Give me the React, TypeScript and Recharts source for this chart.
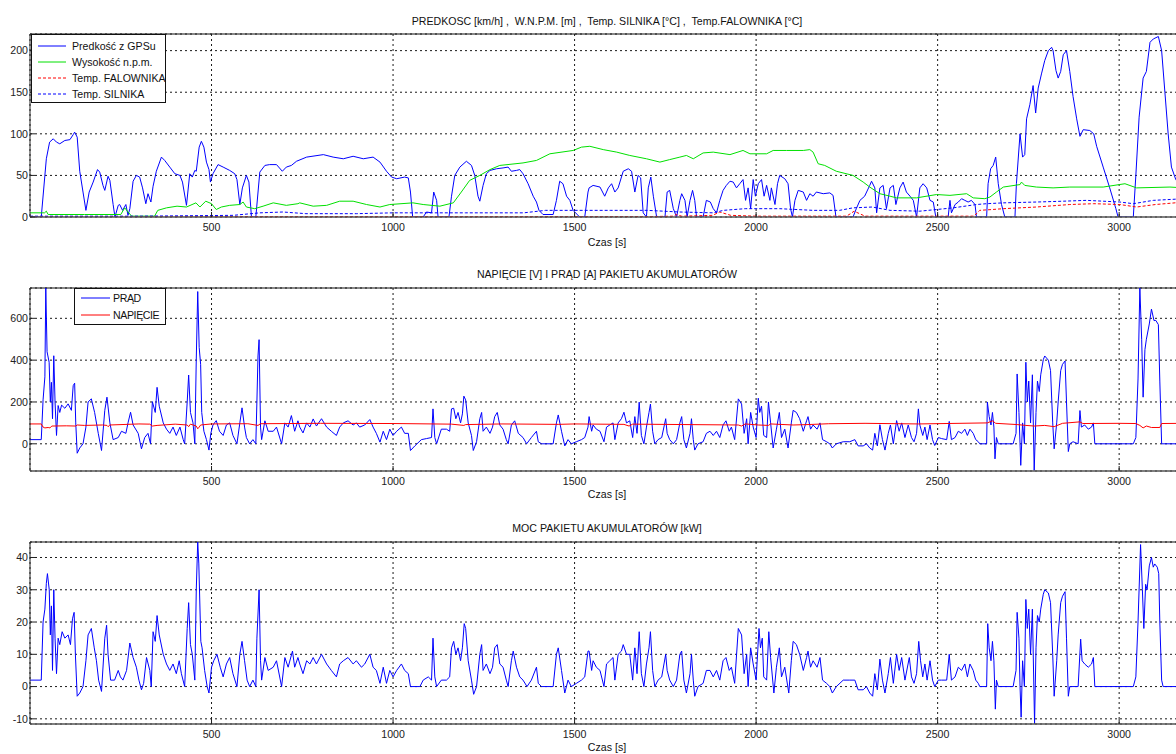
import { LineChart, Line, XAxis, YAxis, CartesianGrid, ReferenceLine } from 'recharts';

type Pt = [number, number];

const timeTicks = [500, 1000, 1500, 2000, 2500, 3000];
const speedTicks = [0, 50, 100, 150, 200];
const batteryTicks = [0, 200, 400, 600];
const powerTicks = [-10, 0, 10, 20, 30, 40];

// [czas s, wartosc]
const speedGps: Pt[] = [
  [0, 0], [31, 0], [45, 70], [54, 90], [64, 94], [73, 90], [82, 88], [96, 92], [110, 93], [119, 99], [123, 102], [130, 96],
  [137, 55], [146, 30], [154, 8], [163, 30], [174, 42], [186, 57], [192, 54], [201, 38], [206, 32], [215, 49], [220, 44],
  [229, 15], [234, 0], [243, 14], [247, 15], [255, 8], [264, 15], [270, 2], [275, 10], [284, 43], [293, 50], [302, 48],
  [310, 35], [319, 16], [325, 28], [333, 18], [339, 37], [348, 55], [362, 72], [371, 68], [385, 60], [399, 52], [413, 50],
  [420, 42], [431, 14], [440, 52], [447, 48], [454, 56], [458, 55], [466, 84], [472, 91], [479, 84], [486, 66], [493, 57],
  [497, 42], [504, 52], [518, 63], [532, 60], [550, 56], [564, 52], [570, 45], [578, 15], [585, 35], [596, 50], [603, 42],
  [610, 0], [622, 0], [633, 54], [647, 62], [660, 63], [679, 63], [695, 55], [706, 60], [720, 62], [734, 67], [762, 72],
  [808, 75], [835, 72], [863, 70], [890, 73], [918, 70], [945, 72], [964, 66], [982, 55], [996, 48], [1010, 46], [1032, 48],
  [1042, 47], [1048, 30], [1054, 0], [1083, 0], [1092, 6], [1106, 5], [1112, 30], [1120, 20], [1124, 0], [1154, 0],
  [1161, 25], [1170, 50], [1184, 60], [1202, 67], [1216, 62], [1225, 50], [1234, 25], [1239, 19], [1248, 38], [1257, 52],
  [1267, 56], [1285, 58], [1303, 59], [1317, 60], [1326, 55], [1340, 56], [1349, 57], [1358, 52], [1372, 40], [1386, 25],
  [1395, 18], [1402, 8], [1413, 3], [1441, 3], [1450, 20], [1459, 43], [1468, 40], [1478, 25], [1487, 20], [1496, 8],
  [1514, 0], [1528, 0], [1537, 30], [1540, 35], [1551, 38], [1570, 36], [1583, 25], [1593, 35], [1602, 40], [1611, 30],
  [1620, 35], [1634, 55], [1648, 58], [1657, 55], [1666, 30], [1675, 50], [1682, 47], [1689, 5], [1698, 0], [1703, 35],
  [1710, 48], [1717, 25], [1726, 0], [1749, 0], [1755, 30], [1762, 32], [1772, 10], [1781, 0], [1790, 20], [1795, 28],
  [1804, 20], [1810, 0], [1818, 20], [1825, 32], [1831, 20], [1836, 0], [1854, 0], [1863, 20], [1874, 18], [1882, 10],
  [1891, 5], [1900, 20], [1909, 32], [1918, 38], [1928, 43], [1937, 42], [1946, 35], [1955, 40], [1964, 45], [1971, 20],
  [1978, 35], [1985, 10], [1992, 45], [1998, 25], [2006, 40], [2015, 45], [2022, 25], [2029, 38], [2038, 20], [2042, 35],
  [2052, 15], [2059, 40], [2065, 50], [2079, 46], [2088, 40], [2095, 10], [2100, 0], [2107, 20], [2116, 32], [2130, 30],
  [2139, 20], [2148, 28], [2157, 25], [2166, 30], [2185, 28], [2203, 29], [2212, 26], [2220, 0], [2267, 0], [2276, 10],
  [2286, 20], [2299, 25], [2313, 38], [2318, 43], [2327, 35], [2332, 5], [2341, 35], [2350, 38], [2359, 10], [2369, 35],
  [2378, 38], [2385, 15], [2396, 35], [2405, 42], [2414, 30], [2424, 25], [2433, 20], [2442, 0], [2451, 35], [2460, 40],
  [2470, 35], [2479, 20], [2488, 18], [2495, 0], [2529, 0], [2534, 20], [2538, 5], [2548, 15], [2557, 18], [2566, 22],
  [2575, 20], [2584, 18], [2593, 20], [2603, 15], [2607, 0], [2635, 0], [2639, 40], [2646, 58], [2653, 62], [2660, 72],
  [2667, 40], [2676, 15], [2685, 0], [2713, 0], [2717, 40], [2727, 100], [2734, 72], [2740, 75], [2745, 118], [2754, 135],
  [2763, 158], [2770, 125], [2777, 155], [2786, 172], [2795, 188], [2805, 200], [2814, 204], [2818, 200], [2826, 176],
  [2832, 167], [2839, 175], [2846, 195], [2855, 200], [2864, 175], [2873, 145], [2883, 118], [2892, 97], [2901, 105],
  [2919, 104], [2930, 100], [2938, 85], [2956, 60], [2974, 35], [2991, 10], [2997, 0], [3039, 0], [3046, 50], [3055, 120],
  [3066, 167], [3075, 175], [3085, 210], [3094, 214], [3108, 217], [3117, 200], [3126, 150], [3135, 100], [3144, 60],
  [3156, 45], [3180, 30],
];

const altitude: Pt[] = [
  [0, 5], [40, 5], [45, 7], [50, 3], [150, 3], [250, 3], [261, 11], [270, 6], [280, 1], [343, 1], [352, 8], [376, 11],
  [405, 13], [431, 12], [457, 17], [468, 12], [484, 19], [500, 16], [513, 9], [527, 12], [550, 14], [578, 15], [587, 18],
  [596, 12], [619, 10], [642, 13], [670, 17], [706, 14], [738, 16], [743, 17], [780, 13], [817, 14], [853, 19], [890, 19],
  [927, 15], [964, 12], [991, 15], [1055, 17], [1083, 15], [1129, 13], [1166, 17], [1188, 30], [1211, 44], [1239, 50],
  [1267, 57], [1294, 62], [1358, 65], [1395, 68], [1432, 76], [1496, 80], [1519, 84], [1542, 85], [1579, 81], [1616, 78],
  [1652, 74], [1698, 70], [1735, 66], [1762, 69], [1790, 72], [1808, 74], [1827, 70], [1854, 77], [1882, 78], [1928, 75],
  [1964, 80], [1983, 76], [2029, 76], [2047, 80], [2084, 80], [2130, 80], [2148, 81], [2157, 78], [2171, 64], [2189, 62],
  [2221, 55], [2267, 50], [2295, 42], [2313, 36], [2341, 28], [2369, 25], [2387, 23], [2442, 23], [2497, 27], [2534, 26],
  [2580, 28], [2598, 23], [2630, 22], [2644, 24], [2662, 30], [2681, 36], [2727, 39], [2731, 42], [2740, 38], [2772, 36],
  [2818, 35], [2864, 36], [2956, 36], [3016, 40], [3048, 35], [3140, 36], [3180, 35],
];

const tempFalownika: Pt[] = [
  [0, 0.5], [1700, 0.5], [1772, 1], [1780, 3], [1795, 1], [1880, 2], [1900, 6], [1930, 2], [2000, 1], [2249, 1],
  [2260, 4], [2270, 7], [2285, 4], [2300, 1], [2600, 1], [2616, 8], [2650, 9], [2681, 10], [2772, 12], [2864, 15],
  [2930, 16], [3002, 15], [3048, 12], [3100, 15], [3180, 18],
];

const tempSilnika: Pt[] = [
  [0, 1], [300, 1], [560, 2], [633, 5], [697, 6], [760, 4], [900, 4], [1000, 5], [1200, 5], [1360, 5], [1420, 8],
  [1500, 8], [1600, 8], [1700, 8], [1790, 6], [1882, 5], [1910, 8], [1970, 10], [2065, 10], [2157, 8], [2230, 8],
  [2267, 11], [2320, 12], [2369, 8], [2451, 7], [2497, 9], [2543, 11], [2607, 15], [2635, 16], [2681, 17], [2772, 18],
  [2846, 19], [2910, 20], [3002, 18], [3039, 16], [3094, 20], [3180, 22],
];

const prad: Pt[] = [
  [0, 20], [31, 20], [36, 210], [41, 320], [43.5, 745], [47, 440], [52.7, 390], [56, 200], [59, 294], [62, 120],
  [65.5, 421], [69, 200], [73, 40], [77.5, 183], [82, 150], [87, 185], [96, 170], [105, 191], [114, 160], [119, 278],
  [123, 290], [126, 100], [130, -45], [137, -20], [146, 0], [154, 80], [160, 200], [169, 215], [178, 150], [188, 50],
  [197, -32], [206, 160], [212, 223], [220, 100], [229, 20], [243, 30], [252, 60], [264, 50], [270, 100], [277, 151],
  [284, 90], [298, 50], [307, -24], [316, 30], [325, 50], [332, 0], [337, 202], [345, 150], [350, 270], [356, 180],
  [367, 100], [376, 70], [385, 50], [394, 80], [403, 40], [413, 80], [422, 20], [426, 0], [433, 200], [437, 329],
  [442, 150], [449, 100], [454, 0], [458, 405], [462, 728], [466, 461], [470, 380], [473, 150], [479, 60], [486, 20],
  [493, -30], [498, 50], [504, 90], [513, 111], [522, 60], [532, 40], [541, 90], [550, 100], [559, 40], [570, 0],
  [578, 100], [584, 172], [591, 80], [596, 30], [605, 0], [614, 20], [622, 0], [625, 200], [628, 420], [631, 498],
  [635, 80], [638, 20], [647, 110], [656, 60], [670, 60], [679, 80], [693, 0], [702, 100], [711, 80], [720, 135],
  [729, 60], [738, 110], [743, 80], [752, 52], [762, 100], [771, 80], [780, 119], [789, 85], [803, 120], [817, 80],
  [830, 60], [844, 40], [853, 80], [863, 100], [876, 110], [890, 90], [899, 100], [908, 80], [922, 90], [936, 116],
  [945, 80], [954, 50], [964, 8], [973, 60], [982, 20], [991, 70], [1000, 40], [1010, 60], [1023, 80], [1032, 50],
  [1042, 50], [1048, -32], [1060, -10], [1078, 20], [1092, 25], [1106, 30], [1110, 167], [1115, 30], [1120, 0],
  [1133, 70], [1147, 70], [1156, 60], [1161, 167], [1167, 170], [1173, 120], [1179, 150], [1186, 100], [1191, 143],
  [1195, 228], [1200, 210], [1207, 100], [1216, 40], [1221, -32], [1230, 10], [1239, 120], [1244, 150], [1248, 60],
  [1257, 80], [1267, 50], [1274, 80], [1280, 130], [1287, 150], [1294, 90], [1303, 70], [1312, 20], [1317, 0], [1326, 90],
  [1335, 110], [1345, 50], [1358, 30], [1368, 0], [1381, 30], [1395, 60], [1400, 10], [1409, 0], [1441, 0], [1450, 100],
  [1455, 138], [1464, 60], [1473, -10], [1482, 20], [1491, 0], [1505, 10], [1519, 20], [1528, 30], [1537, 80], [1540, 130],
  [1547, 60], [1551, 90], [1560, 70], [1570, 60], [1581, 10], [1588, 80], [1597, 90], [1606, 100], [1611, 20], [1620, 100],
  [1629, 120], [1636, 151], [1643, 100], [1652, 110], [1660, 30], [1666, 130], [1672, 50], [1678, 199], [1684, 40],
  [1691, 0], [1698, 80], [1705, 150], [1709, 190], [1715, 60], [1721, 0], [1730, 20], [1740, 30], [1751, 120], [1755, 50],
  [1762, 20], [1772, 0], [1781, 20], [1790, 100], [1795, 130], [1801, 20], [1808, -20], [1818, 50], [1822, 120],
  [1827, 20], [1831, -30], [1840, 0], [1854, 10], [1863, 50], [1873, 60], [1882, 40], [1891, 60], [1900, 30], [1909, 90],
  [1917, 110], [1926, 60], [1932, 80], [1941, 20], [1951, 215], [1960, 190], [1967, 50], [1974, 120], [1978, 0],
  [1985, 150], [1992, 80], [2000, 30], [2006, 218], [2010, 150], [2015, 180], [2021, 40], [2029, 30], [2034, 200],
  [2040, 100], [2047, -20], [2056, 70], [2064, 150], [2070, 30], [2079, 70], [2088, -20], [2097, 100], [2102, 160],
  [2111, 150], [2120, 120], [2130, 60], [2139, 110], [2143, 130], [2150, 70], [2157, 90], [2168, 70], [2176, 100],
  [2183, 20], [2194, 10], [2203, 0], [2210, -20], [2221, 0], [2240, 10], [2258, 10], [2272, 20], [2281, -10], [2295, -10],
  [2304, 0], [2313, -20], [2321, -30], [2327, 50], [2334, -10], [2341, 91], [2348, 20], [2355, -30], [2364, 50], [2370, 90],
  [2378, 0], [2387, 111], [2394, 60], [2401, 100], [2410, 30], [2419, 90], [2428, 30], [2435, 10], [2442, 50], [2447, 167],
  [2451, 90], [2459, 40], [2465, 80], [2471, 20], [2479, 90], [2486, 20], [2492, -8], [2502, 30], [2511, 25], [2525, 20],
  [2532, 107], [2538, 20], [2548, 30], [2557, 60], [2566, 50], [2575, 70], [2582, 40], [2589, 70], [2598, 50], [2605, 20],
  [2612, 10], [2616, 0], [2635, 0], [2637, 200], [2642, 130], [2647, 90], [2651, 150], [2655, 80], [2658, -72], [2662, 30],
  [2667, 0], [2708, 0], [2716, 50], [2719, 334], [2724, 150], [2727, 0], [2729, -103], [2734, 100], [2739, 0], [2743, 390],
  [2747, 200], [2751, 300], [2756, 100], [2761, 330], [2766, -127], [2771, 150], [2775, 300], [2780, 250], [2784, 330],
  [2791, 402], [2795, 420], [2805, 400], [2811, 350], [2817, 100], [2821, -24], [2828, 100], [2832, 200], [2839, 350],
  [2844, 380], [2851, 396], [2855, 200], [2860, -37], [2864, 0], [2873, 10], [2887, 0], [2892, 159], [2896, 80], [2905, 90],
  [2915, 70], [2924, 80], [2929, 100], [2933, 0], [3039, 0], [3046, 30], [3052, 310], [3057, 745], [3062, 500], [3066, 223],
  [3071, 450], [3075, 500], [3083, 573], [3089, 644], [3096, 589], [3101, 590], [3108, 570], [3112, 300], [3117, 0],
  [3180, 0],
];

const napiecie: Pt[] = [
  [0, 95], [31, 95], [36, 80], [41, 76], [50, 78], [55, 76], [60, 85], [100, 86], [126, 85], [130, 90], [150, 88],
  [200, 90], [212, 88], [215, 82], [220, 90], [300, 95], [330, 94], [337, 85], [350, 88], [400, 94], [433, 90], [437, 82],
  [442, 94], [458, 85], [462, 72], [466, 80], [470, 90], [500, 95], [600, 96], [628, 88], [635, 96], [800, 98], [1000, 97],
  [1110, 95], [1161, 94], [1195, 88], [1200, 92], [1300, 95], [1455, 93], [1500, 95], [1636, 93], [1650, 85], [1660, 94],
  [1951, 90], [1960, 85], [1970, 95], [2006, 90], [2034, 88], [2040, 95], [2102, 90], [2143, 92], [2200, 96], [2300, 98],
  [2447, 95], [2637, 100], [2651, 110], [2660, 98], [2719, 92], [2743, 88], [2766, 85], [2795, 88], [2821, 82], [2844, 98],
  [2892, 105], [2900, 97], [3000, 98], [3046, 97], [3057, 88], [3066, 76], [3075, 85], [3089, 78], [3112, 78], [3117, 97],
  [3180, 98],
];

const moc: Pt[] = [
  [0, 2], [31, 2], [36, 20], [41, 24], [45, 32], [48, 35], [53, 30], [56, 16], [59, 25], [62, 5], [65.5, 30], [69, 15],
  [73, 4], [77.5, 15], [82, 13], [88.5, 17], [96, 15], [105, 16], [111.5, 13], [117, 21], [121.5, 23], [125, 10], [130, -3],
  [137, -2], [146, 0], [154, 8], [160, 16], [169, 18], [177, 12], [183, 8], [189, 2], [197, -1.5], [206, 15], [211, 19],
  [215, 10], [222, 2], [233, 2], [243, 5], [249, 3], [256, 2], [266, 5], [275, 13.5], [284, 9], [293, 6], [300, 2],
  [307, -1], [313, 1], [321, 9], [330, 5], [334, 0], [339, 17], [345, 14], [350, 22], [356, 16], [367, 10], [376, 7],
  [385, 5], [394, 7], [403, 4], [411, 8], [417, 4], [426, 0], [433, 18], [437, 26], [442, 13], [447, 10], [454, 2],
  [458, 30], [462, 45], [465, 38], [470.5, 14], [474, 12], [481, 5], [488, 0], [493, -2], [500, 6], [506, 8], [515, 10],
  [524, 6], [532, 3], [541, 7], [550, 9], [559, 4], [570, 0], [578, 10], [584, 14], [591, 8], [598, 2], [605, 0], [614, 2],
  [622, 0], [625, 15], [631, 30], [635, 8], [638, 2], [647, 9], [656, 5], [670, 6], [679, 8], [693, 0], [702, 9], [711, 6],
  [723, 11], [729, 6], [738, 9], [743, 7], [752, 4], [762, 8], [771, 7], [780, 9], [789, 7], [803, 10], [817, 7], [830, 5],
  [844, 3], [853, 7], [863, 8], [876, 9], [890, 7], [899, 8], [913, 6], [922, 7], [936, 10], [945, 6], [954, 5], [964, 1],
  [973, 6], [982, 1], [991, 5], [1000, 3], [1010, 5], [1023, 7], [1032, 5], [1042, 4], [1048, 0], [1074, 0], [1083, 2],
  [1097, 3], [1106, 2], [1110, 15], [1115, 3], [1120, 0], [1133, 2], [1147, 2], [1156, 3], [1161, 12], [1167, 14],
  [1173, 10], [1179, 12], [1186, 8], [1191, 12], [1196, 19.5], [1200, 18], [1207, 8], [1216, 2], [1222, -2.4], [1230, 0],
  [1239, 10], [1244, 13], [1248, 5], [1257, 7], [1267, 4], [1274, 6], [1280, 12], [1287, 13], [1294, 7], [1303, 6],
  [1312, 2], [1317, 0], [1326, 8], [1331, 11], [1340, 6], [1349, 3], [1358, 2], [1369, 0], [1381, 2], [1395, 6], [1400, 1],
  [1409, 0], [1441, 0], [1450, 10], [1455, 12], [1464, 5], [1473, -2], [1482, 2], [1491, 0], [1505, 1], [1519, 2],
  [1528, 3], [1537, 11], [1540, 11], [1547, 5], [1551, 8], [1560, 6], [1570, 5], [1581, 0], [1588, 7], [1597, 8],
  [1606, 9], [1611, 2], [1620, 10], [1629, 11], [1634, 13], [1643, 10], [1652, 10], [1660, 2], [1666, 12], [1672, 4],
  [1678, 17], [1684, 4], [1691, 0], [1698, 7], [1705, 12], [1709, 17], [1715, 5], [1721, 0], [1730, 2], [1740, 3],
  [1751, 10], [1755, 5], [1762, 2], [1772, 0], [1781, 2], [1790, 10], [1795, 11], [1801, 2], [1808, -2], [1818, 4],
  [1822, 10], [1827, 2], [1831, -3], [1840, 0], [1854, 1], [1863, 5], [1873, 5], [1882, 3], [1891, 5], [1900, 2],
  [1909, 8], [1917, 9], [1926, 5], [1932, 6], [1941, 1], [1951, 18], [1960, 16], [1967, 4], [1974, 10], [1978, 0],
  [1985, 12], [1992, 7], [2000, 2], [2008, 18], [2012, 12], [2017, 15], [2021, 3], [2029, 2], [2035, 17], [2040, 9],
  [2049, -2], [2056, 6], [2064, 12], [2070, 3], [2079, 6], [2090, -2], [2097, 8], [2102, 14], [2111, 13], [2120, 10],
  [2130, 5], [2139, 9], [2143, 11], [2150, 6], [2157, 8], [2168, 6], [2176, 9], [2183, 2], [2194, 1], [2203, 0],
  [2210, -2], [2221, 0], [2240, 2], [2258, 2], [2272, 2], [2281, -1], [2295, -1], [2304, 0], [2313, -2], [2321, -3],
  [2327, 4], [2334, -1], [2341, 8.5], [2348, 2], [2355, -2], [2364, 4], [2370, 9], [2378, 1], [2387, 10], [2394, 5],
  [2401, 9], [2410, 2], [2422, 9], [2428, 3], [2435, 1], [2442, 4], [2448, 14], [2453, 8], [2459, 3], [2465, 7], [2471, 2],
  [2479, 8], [2486, 2], [2492, 0], [2502, 2], [2511, 2], [2525, 2], [2532, 10], [2538, 2], [2548, 3], [2557, 6], [2566, 5],
  [2575, 7], [2582, 3], [2589, 7], [2598, 5], [2605, 2], [2612, 1], [2616, 0], [2635, 0], [2638, 19.5], [2642, 12],
  [2647, 8], [2651, 14], [2655, 8], [2659, -7], [2662, 2], [2667, 0], [2708, 0], [2716, 5], [2719, 23], [2724, 15],
  [2727, 0], [2730, -9.5], [2734, 8], [2739, 0], [2743, 27], [2747, 18], [2751, 24], [2756, 10], [2761, 24], [2767, -11.5],
  [2771, 12], [2775, 22], [2780, 20], [2784, 24], [2791, 28.6], [2795, 30], [2805, 29], [2811, 26], [2817, 10], [2821, -3],
  [2828, 8], [2832, 16], [2839, 26], [2844, 28], [2851, 29.4], [2855, 15], [2860, -3], [2864, 0], [2887, 0], [2894, 14.7],
  [2898, 8], [2905, 7], [2915, 6], [2924, 7], [2929, 9], [2933, 0], [3039, 0], [3046, 3], [3052, 20], [3059, 44], [3064, 30],
  [3068, 18], [3073, 31.7], [3077, 30], [3083, 37.4], [3089, 40], [3094, 37], [3098, 38], [3105, 37], [3109, 35],
  [3112, 20], [3117, 2], [3121, 0], [3180, 0],
];

const X_MAX = 3180;
const FONT = '"Liberation Sans", Arial, Helvetica, sans-serif';
const FS = 10.6;
const BLUE = '#0000ff';
const GREEN = '#00e000';
const RED = '#ff0000';

const rows = (pts: Pt[]) => pts.map(([t, v]) => ({ t, v }));

type Series = { name: string; data: Pt[]; color: string; dashed?: boolean };

type PanelProps = {
  top: number;
  height: number;
  mTop: number;
  mBottom: number;
  yDomain: [number, number];
  yTicks: number[];
  series: Series[];
  title: string;
  titleY: number;
  labelY: number;
};

const Panel = ({ top, height, mTop, mBottom, yDomain, yTicks, series, title, titleY, labelY }: PanelProps) => {
  const tickStyle = { fontSize: FS, fill: '#222', fontFamily: FONT };
  return (
    <>
      <div style={{ position: 'absolute', left: 0, top: titleY - 7, width: 1214, textAlign: 'center', fontSize: FS, lineHeight: '14px', whiteSpace: 'pre', color: '#111' }}>
        {title}
      </div>
      <div style={{ position: 'absolute', left: 0, top }}>
        <LineChart width={1200} height={height} margin={{ top: mTop, right: 15.5, bottom: mBottom, left: 0 }}>
          <CartesianGrid stroke="#1a1a1a" strokeDasharray="2 3" strokeWidth={1} />
          <XAxis
            type="number"
            dataKey="t"
            domain={[0, X_MAX]}
            ticks={timeTicks}
            allowDataOverflow
            height={20}
            tickSize={-5}
            tickMargin={11}
            tick={tickStyle}
            axisLine={{ stroke: '#555', strokeWidth: 1.5 }}
            tickLine={{ stroke: '#222' }}
          />
          <YAxis
            type="number"
            domain={yDomain}
            ticks={yTicks}
            allowDataOverflow
            width={30}
            tickSize={-5}
            tickMargin={7}
            tick={tickStyle}
            axisLine={{ stroke: '#222' }}
            tickLine={{ stroke: '#222' }}
          />
          <ReferenceLine y={yDomain[1]} stroke="#111" strokeWidth={1} ifOverflow="visible" />
          {series.map((s) => (
            <Line
              key={s.name}
              name={s.name}
              data={rows(s.data)}
              dataKey="v"
              type="linear"
              stroke={s.color}
              strokeWidth={1}
              strokeDasharray={s.dashed ? '3 2' : undefined}
              dot={false}
              activeDot={false}
              isAnimationActive={false}
            />
          ))}
        </LineChart>
      </div>
      <div style={{ position: 'absolute', left: 0, top: labelY - 7, width: 1214, textAlign: 'center', fontSize: FS, lineHeight: '14px', color: '#111' }}>
        Czas [s]
      </div>
    </>
  );
};

const LegendBox = ({ left, top, width, height, items, rowYs, lineX, textX, spacing = 0 }: {
  left: number; top: number; width: number; height: number; items: Series[]; rowYs: number[]; lineX: [number, number]; textX: number; spacing?: number;
}) => (
  <div style={{ position: 'absolute', left, top, width, height, boxSizing: 'border-box', border: '1px solid #111', background: '#fff' }}>
    {items.map((s, i) => (
      <div key={s.name} style={{ position: 'absolute', left: 0, top: rowYs[i] - 7, height: 14, width: width - 2 }}>
        <svg width={width - 2} height={14} style={{ position: 'absolute', left: 0, top: 0 }}>
          <line x1={lineX[0]} x2={lineX[1]} y1={7} y2={7} stroke={s.color} strokeWidth={1} strokeDasharray={s.dashed ? '3 2' : undefined} />
        </svg>
        <span style={{ position: 'absolute', left: textX, top: 0, fontSize: FS, lineHeight: '14px', letterSpacing: spacing, whiteSpace: 'nowrap', color: '#111' }}>{s.name}</span>
      </div>
    ))}
  </div>
);

const topSeries: Series[] = [
  { name: 'Predkość z GPSu', data: speedGps, color: BLUE },
  { name: 'Wysokość n.p.m.', data: altitude, color: GREEN },
  { name: 'Temp. FALOWNIKA', data: tempFalownika, color: RED, dashed: true },
  { name: 'Temp. SILNIKA', data: tempSilnika, color: BLUE, dashed: true },
];

const midSeries: Series[] = [
  { name: 'PRĄD', data: prad, color: BLUE },
  { name: 'NAPIĘCIE', data: napiecie, color: RED },
];

const lowSeries: Series[] = [{ name: 'MOC', data: moc, color: BLUE }];

export default function App() {
  return (
    <div style={{ position: 'absolute', left: 0, top: 0, width: 1176, height: 754, overflow: 'hidden', background: '#fff', fontFamily: FONT }}>
      <Panel
        top={0}
        height={250}
        mTop={34}
        mBottom={13}
        yDomain={[0, 220]}
        yTicks={speedTicks}
        series={topSeries}
        title={'PREDKOSC [km/h] ,  W.N.P.M. [m] ,  Temp. SILNIKA [°C] ,  Temp.FALOWNIKA [°C]'}
        titleY={21}
        labelY={242}
      />
      <Panel
        top={250}
        height={254}
        mTop={38}
        mBottom={13}
        yDomain={[-130, 745]}
        yTicks={batteryTicks}
        series={midSeries}
        title="NAPIĘCIE [V] I PRĄD [A] PAKIETU AKUMULATORÓW"
        titleY={274}
        labelY={494}
      />
      <Panel
        top={504}
        height={250}
        mTop={38}
        mBottom={10}
        yDomain={[-11.6, 44.8]}
        yTicks={powerTicks}
        series={lowSeries}
        title="MOC PAKIETU AKUMULATORÓW [kW]"
        titleY={528}
        labelY={747}
      />
      <LegendBox left={31} top={34} width={135} height={69} items={topSeries} rowYs={[10.5, 26.8, 43, 59.3]} lineX={[6, 34]} textX={40} />
      <LegendBox left={74} top={288} width={92} height={37} items={midSeries} rowYs={[9, 26]} lineX={[6, 35]} textX={38} spacing={-0.4} />
    </div>
  );
}
